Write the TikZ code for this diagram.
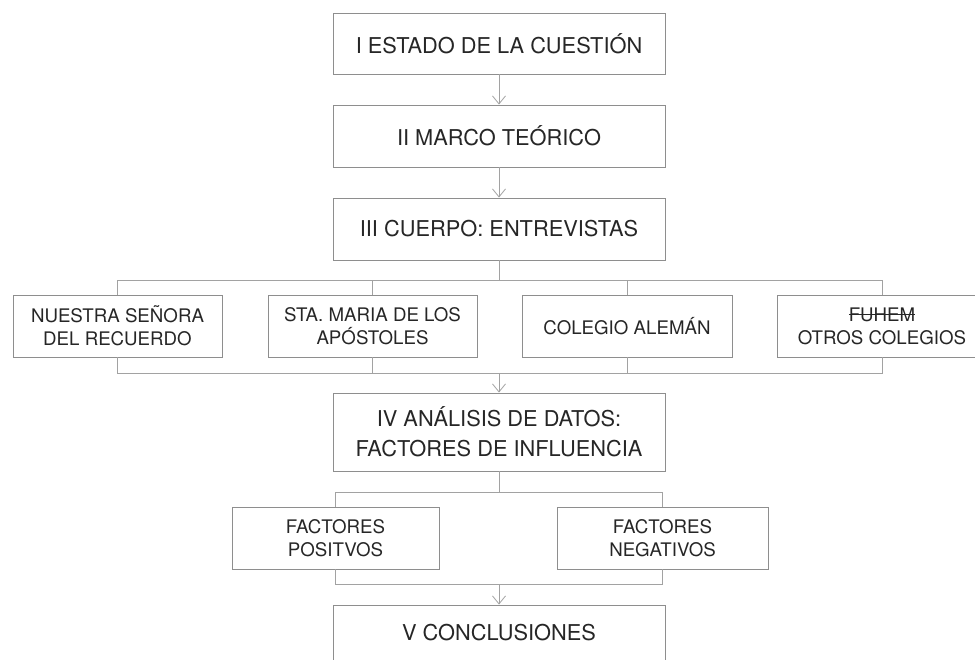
\documentclass[tikz,border=0pt]{standalone}
\usepackage{fontspec}
\setmainfont{TeX Gyre Heros}
\usetikzlibrary{arrows.meta}
\definecolor{txt}{HTML}{262626}
\definecolor{bord}{HTML}{8E8E8E}
\definecolor{conn}{HTML}{A2A2A2}
\newlength\strklen
\newcommand\strikeword[1]{\settowidth{\strklen}{#1}\rlap{\rule[0.33em]{\strklen}{0.06em}}#1}
\begin{document}
\begin{tikzpicture}[x=1pt,y=-1pt,
  bigbox/.style={draw=bord,line width=0.9pt,text=txt,inner sep=0pt,align=center,
    minimum width=332pt,font=\fontsize{21.8}{30}\selectfont},
  smallbox/.style={draw=bord,line width=0.9pt,text=txt,inner sep=0pt,align=center,
    minimum height=62pt,font=\fontsize{18.7}{23}\selectfont},
  link/.style={draw=conn,line width=0.9pt},
  arr/.style={link,-{Straight Barb[length=8pt,width=13pt,line width=0.8pt]}}]
\useasboundingbox (0,0) rectangle (975,660);
\clip (0,0) rectangle (975,660);
% main column
\node[bigbox,minimum height=61pt] (I) at (499,43.5) {I ESTADO DE LA CUESTIÓN};
\node[bigbox,minimum height=62pt] (II) at (499,136) {II MARCO TEÓRICO};
\node[bigbox,minimum height=62pt] (III) at (499,229) {III CUERPO: ENTREVISTAS};
% schools
\node[smallbox,minimum width=209pt] (A) at (117.5,326) {NUESTRA SEÑORA\\DEL RECUERDO};
\node[smallbox,minimum width=209pt] (B) at (372.5,326) {STA. MARIA DE LOS\\APÓSTOLES};
\node[smallbox,minimum width=210pt] (C) at (627,326) {COLEGIO ALEMÁN};
\node[smallbox,minimum width=210pt] (D) at (882,326) {\strikeword{FUHEM}\\OTROS COLEGIOS};
% analysis
\node[bigbox,minimum height=78pt] (IV) at (499,432) {IV ANÁLISIS DE DATOS:\\FACTORES DE INFLUENCIA};
\node[smallbox,minimum width=207pt] (P) at (335.5,538) {FACTORES\\POSITVOS};
\node[smallbox,minimum width=211pt] (N) at (662.5,538) {FACTORES\\NEGATIVOS};
\node[bigbox,minimum height=70pt] (V) at (499,640) {};
\node[text=txt,inner sep=0pt,font=\fontsize{21.8}{30}\selectfont] (Vt) at (499,633) {V CONCLUSIONES};
% junction coordinates
\coordinate (j1) at (499,280);
\coordinate (j2) at (499,373);
\coordinate (j3) at (499,492);
\coordinate (j4) at (499,584.5);
% connectors
\draw[arr] (I.south) -- (II.north);
\draw[arr] (II.south) -- (III.north);
\draw[link] (III.south) -- (j1);
\draw[link] (A.north) -- (A.north |- j1) -- (D.north |- j1) -- (D.north);
\draw[link] (B.north) -- (B.north |- j1);
\draw[link] (C.north) -- (C.north |- j1);
\draw[link] (A.south) -- (A.south |- j2) -- (D.south |- j2) -- (D.south);
\draw[link] (B.south) -- (B.south |- j2);
\draw[link] (C.south) -- (C.south |- j2);
\draw[arr] (j2) -- (IV.north);
\draw[link] (IV.south) -- (j3);
\draw[link] (P.north) -- (P.north |- j3) -- (N.north |- j3) -- (N.north);
\draw[link] (P.south) -- (P.south |- j4) -- (N.south |- j4) -- (N.south);
\draw[arr] (j4) -- (V.north);
\end{tikzpicture}
\end{document}
